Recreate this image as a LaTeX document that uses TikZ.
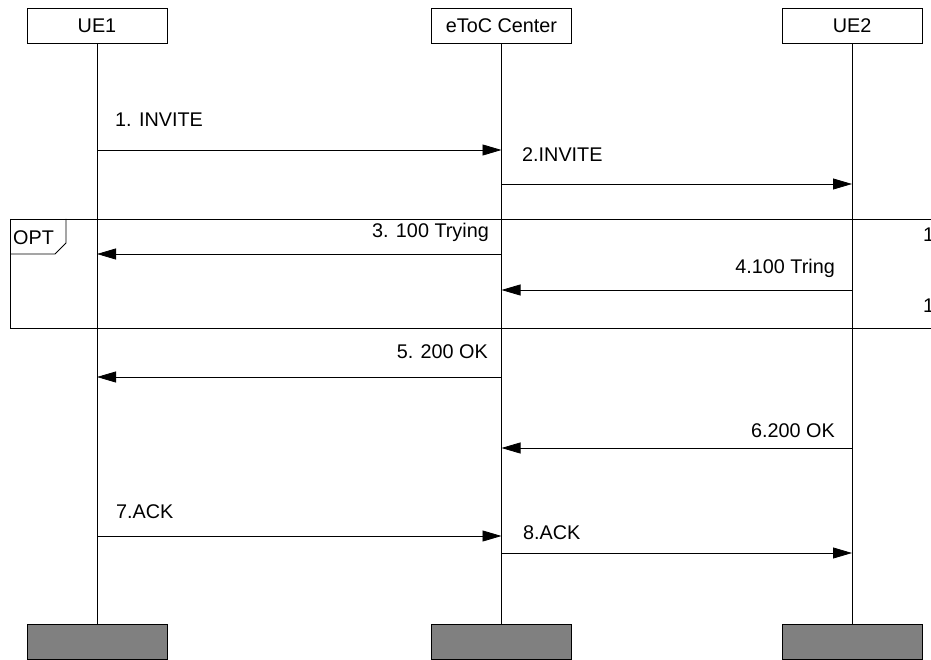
\documentclass[tikz,border=0pt]{standalone}
\usepackage{fontspec}
\setmainfont{Liberation Sans}
\usetikzlibrary{arrows.meta}
\begin{document}
\begin{tikzpicture}[x=1pt,y=-1pt,
  every node/.style={font=\fontsize{19.8}{22}\selectfont, inner sep=0pt},
  head/.style={draw=black, line width=0.8pt, minimum width=140pt, minimum height=35pt, fill=white},
  foot/.style={draw=black, line width=0.8pt, minimum width=140pt, minimum height=35pt, fill=gray},
  life/.style={line width=0.8pt, black},
  msg/.style={line width=0.8pt, black, -{Triangle[length=19pt,width=11pt]}},
  lab/.style={anchor=base west},
  labr/.style={anchor=base east}]
\useasboundingbox (0,0) rectangle (931,660);
\clip (0,0) rectangle (931,660);
% OPT frame
\draw[line width=0.8pt] (10,219) -- (950,219) (10,219) -- (10,328) -- (950,328);
\draw[line width=0.8pt] (10,254) -- (55,254) -- (66,243) -- (66,219);
\node[anchor=base west] (opt) at (13,245) {OPT};
% headers
\node[head] (ue1) at (97,25.5) {UE1};
\node[head] (etoc) at (501.5,25.5) {eToC Center};
\node[head] (ue2) at (852,25.5) {UE2};
% footers
\node[foot] (f1) at (97,641.5) {};
\node[foot] (f2) at (501.5,641.5) {};
\node[foot] (f3) at (852,641.5) {};
% lifelines
\draw[life] (ue1.south) -- (f1.north);
\draw[life] (etoc.south) -- (f2.north);
\draw[life] (ue2.south) -- (f3.north);
% message coordinates
\coordinate (m1a) at (97,150);   \coordinate (m1b) at (501.5,150);
\coordinate (m2a) at (501.5,184); \coordinate (m2b) at (852,184);
\coordinate (m3a) at (501.5,254); \coordinate (m3b) at (97,254);
\coordinate (m4a) at (852,290);  \coordinate (m4b) at (501.5,290);
\coordinate (m5a) at (501.5,377); \coordinate (m5b) at (97,377);
\coordinate (m6a) at (852,448);  \coordinate (m6b) at (501.5,448);
\coordinate (m7a) at (97,536);   \coordinate (m7b) at (501.5,536);
\coordinate (m8a) at (501.5,553); \coordinate (m8b) at (852,553);
\draw[msg] (m1a) -- (m1b);
\draw[msg] (m2a) -- (m2b);
\draw[msg] (m3a) -- (m3b);
\draw[msg] (m4a) -- (m4b);
\draw[msg] (m5a) -- (m5b);
\draw[msg] (m6a) -- (m6b);
\draw[msg] (m7a) -- (m7b);
\draw[msg] (m8a) -- (m8b);
% labels
\node[lab] (l1) at (115,127) {1. INVITE};
\node[lab] (l2) at (522,162) {2.INVITE};
\node[labr] (l3) at (489,238) {3. 100 Trying};
\node[labr] (l4) at (835,273) {4.100 Tring};
\node[labr] (l5) at (488,358) {5. 200 OK};
\node[labr] (l6) at (835,437) {6.200 OK};
\node[lab] (l7) at (116,518) {7.ACK};
\node[lab] (l8) at (523,539) {8.ACK};
\node[lab] (r1) at (923,242) {1};
\node[lab] (r2) at (923,312) {1};
\end{tikzpicture}
\end{document}
